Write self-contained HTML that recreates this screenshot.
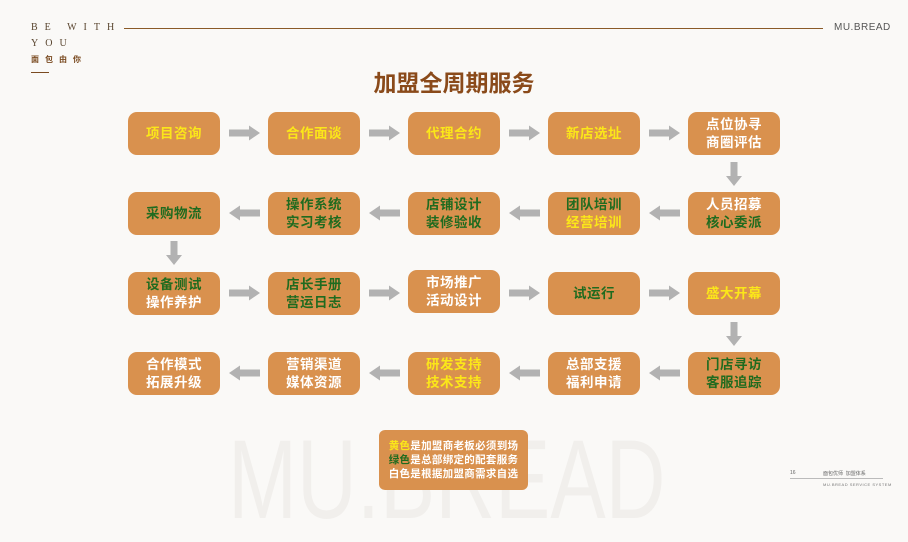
<!DOCTYPE html>
<html><head><meta charset="utf-8"><style>
*{margin:0;padding:0;box-sizing:border-box}
html,body{width:908px;height:511px}
body{background:#faf9f7;position:relative;overflow:hidden;font-family:"Liberation Sans","Noto Sans CJK SC",sans-serif}
.a{position:absolute}
.b{position:absolute;width:92px;height:43px;background:#d9914e;border-radius:9px;display:flex;flex-direction:column;align-items:center;justify-content:center;font-weight:bold;font-size:13.5px;line-height:18px;color:#fff;letter-spacing:0.5px}
.y{color:#fbe719}.g{color:#1f6b1f}.w{color:#fff}
.ar{position:absolute}
</style></head><body>
<div class="a" style="left:228px;top:424px;font-size:112px;color:#f1efec;line-height:112px;transform:scaleX(0.74);transform-origin:0 0;white-space:nowrap">MU.BREAD</div>
<div class="a" style="left:31px;top:22px;font-family:'Liberation Serif',serif;font-size:10px;letter-spacing:7px;color:#5a4630">BE WITH</div>
<div class="a" style="left:31px;top:38px;font-family:'Liberation Serif',serif;font-size:10px;letter-spacing:7px;color:#5a4630">YOU</div>
<div class="a" style="left:31px;top:54px;font-size:8px;letter-spacing:6px;color:#7a4a20;font-weight:bold">面包由你</div>
<div class="a" style="left:31px;top:72px;width:18px;height:1px;background:#7a4a20"></div>
<div class="a" style="left:124px;top:28px;width:699px;height:1px;background:#8a5a28"></div>
<div class="a" style="left:834px;top:22px;font-size:10px;color:#555;letter-spacing:0.5px">MU.BREAD</div>
<div class="a" style="left:0;width:908px;top:64px;text-align:center;font-size:23px;font-weight:bold;color:#8a4a1a">加盟全周期服务</div>

<div class="b" style="left:128px;top:112px"><span class="y">项目咨询</span></div>
<div class="b" style="left:268px;top:112px"><span class="y">合作面谈</span></div>
<div class="b" style="left:408px;top:112px"><span class="y">代理合约</span></div>
<div class="b" style="left:548px;top:112px"><span class="y">新店选址</span></div>
<div class="b" style="left:688px;top:112px"><span>点位协寻</span><span>商圈评估</span></div>

<div class="b" style="left:128px;top:192px"><span class="g">采购物流</span></div>
<div class="b" style="left:268px;top:192px"><span class="g">操作系统</span><span class="g">实习考核</span></div>
<div class="b" style="left:408px;top:192px"><span class="g">店铺设计</span><span class="g">装修验收</span></div>
<div class="b" style="left:548px;top:192px"><span class="g">团队培训</span><span class="y">经营培训</span></div>
<div class="b" style="left:688px;top:192px"><span>人员招募</span><span class="g">核心委派</span></div>

<div class="b" style="left:128px;top:272px"><span class="g">设备测试</span><span>操作养护</span></div>
<div class="b" style="left:268px;top:272px"><span class="g">店长手册</span><span class="g">营运日志</span></div>
<div class="b" style="left:408px;top:270px"><span>市场推广</span><span>活动设计</span></div>
<div class="b" style="left:548px;top:272px"><span class="g">试运行</span></div>
<div class="b" style="left:688px;top:272px"><span class="y">盛大开幕</span></div>

<div class="b" style="left:128px;top:352px"><span>合作模式</span><span>拓展升级</span></div>
<div class="b" style="left:268px;top:352px"><span>营销渠道</span><span>媒体资源</span></div>
<div class="b" style="left:408px;top:352px"><span class="y">研发支持</span><span class="y">技术支持</span></div>
<div class="b" style="left:548px;top:352px"><span>总部支援</span><span>福利申请</span></div>
<div class="b" style="left:688px;top:352px"><span class="g">门店寻访</span><span class="g">客服追踪</span></div>

<svg class="ar" style="left:0;top:0" width="908" height="511">
<defs>
<polygon id="r" points="0,-3.5 20,-3.5 20,-7.5 31,0 20,7.5 20,3.5 0,3.5" fill="#b2b2b2"/>
<polygon id="l" points="31,-3.5 11,-3.5 11,-7.5 0,0 11,7.5 11,3.5 31,3.5" fill="#b2b2b2"/>
<polygon id="d" points="-3.5,0 -3.5,14 -8,14 0,24 8,14 3.5,14 3.5,0" fill="#b2b2b2"/>
</defs>
<use href="#r" x="229" y="133"/><use href="#r" x="369" y="133"/><use href="#r" x="509" y="133"/><use href="#r" x="649" y="133"/>
<use href="#d" x="734" y="162"/>
<use href="#l" x="229" y="213"/><use href="#l" x="369" y="213"/><use href="#l" x="509" y="213"/><use href="#l" x="649" y="213"/>
<use href="#d" x="174" y="241"/>
<use href="#r" x="229" y="293"/><use href="#r" x="369" y="293"/><use href="#r" x="509" y="293"/><use href="#r" x="649" y="293"/>
<use href="#d" x="734" y="322"/>
<use href="#l" x="229" y="373"/><use href="#l" x="369" y="373"/><use href="#l" x="509" y="373"/><use href="#l" x="649" y="373"/>
</svg>

<div class="a" style="left:379px;top:430px;width:149px;height:60px;background:#d9914e;border-radius:6px;color:#fff;font-size:10.5px;line-height:14px;font-weight:bold;text-align:center;padding-top:9px;letter-spacing:0.3px">
<div><span class="y">黄色</span>是加盟商老板必须到场</div>
<div><span class="g">绿色</span>是总部绑定的配套服务</div>
<div>白色是根据加盟商需求自选</div>
</div>

<div class="a" style="left:790px;top:470px;font-size:5px;color:#666">16</div>
<div class="a" style="left:823px;top:470px;font-size:5px;color:#666">面包优师 &nbsp;加盟体系</div>
<div class="a" style="left:790px;top:478px;width:93px;height:1px;background:#bbb"></div>
<div class="a" style="left:823px;top:482px;font-size:4px;color:#777;letter-spacing:0.5px">MU.BREAD SERVICE SYSTEM</div>
</body></html>
